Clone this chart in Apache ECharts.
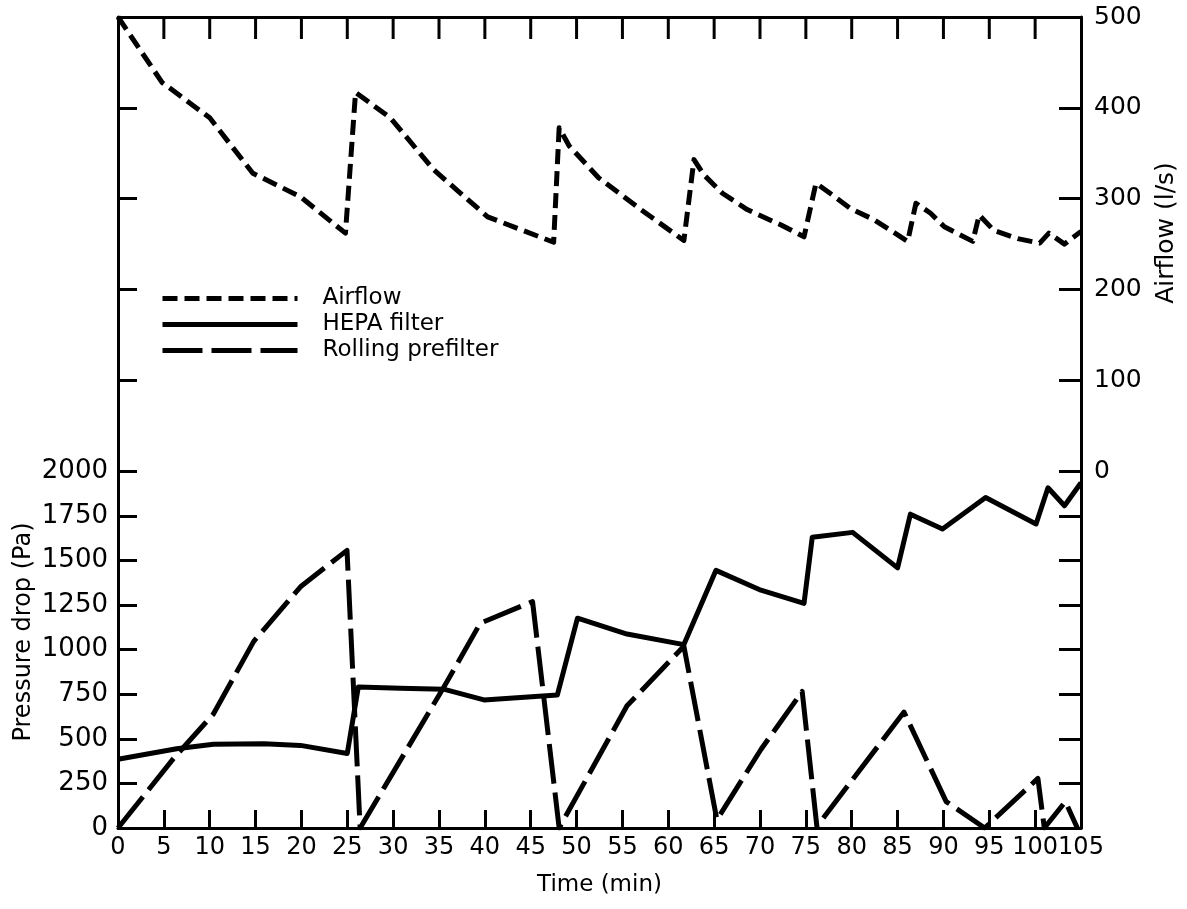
<!DOCTYPE html>
<html>
<head>
<meta charset="utf-8">
<title>Airflow and pressure drop vs time</title>
<script src="https://cdn.jsdelivr.net/npm/echarts@6/dist/echarts.min.js"></script>
<style>
  html, body { margin: 0; padding: 0; background: #fff; }
  #chart { width: 1187px; height: 909px; }
</style>
</head>
<body>
<div id="chart"></div>
<script>
// Airflow through the unit (l/s) against time (min)
const airflowTime = [0, 4.8, 10, 14.7, 19.9, 24.8, 25.9, 29.7, 34.4, 40.3, 47.5, 48.1, 49.2, 52.4, 57, 61.7, 62.8, 63.9, 65.9, 68.6, 72.3, 74.8, 76.1, 77.9, 79.9, 82.4, 86.1, 87, 88.6, 90.1, 93.2, 93.9, 95.5, 98.1, 100.5, 101.5, 103.2, 105];
const airflowValues = [500, 428, 389, 328, 302, 262, 417, 389, 332, 280, 252, 378, 358, 323, 288, 254, 343, 326, 306, 288, 271, 258, 317, 304, 289, 277, 253, 295, 284, 269, 253, 282, 265, 256, 251, 262, 250, 264];

// HEPA filter pressure drop (Pa)
const hepaTime = [0, 6.4, 10.4, 15.9, 19.9, 25, 26.2, 30.8, 35.5, 39.9, 47.9, 50.1, 55.5, 61.7, 65.2, 70.1, 74.8, 75.7, 80.1, 85, 86.4, 89.9, 94.6, 100.1, 101.4, 103.2, 105];
const hepaValues = [385, 444, 469, 472, 463, 418, 790, 783, 778, 718, 745, 1176, 1087, 1028, 1444, 1333, 1259, 1630, 1657, 1458, 1759, 1676, 1852, 1704, 1907, 1806, 1935];

// Rolling prefilter pressure drop (Pa)
const rollingTime = [0, 6.04, 10.4, 14.8, 19.9, 24.97, 26.4, 35.5, 39.5, 45.2, 48.1, 55.5, 61.7, 65.3, 70.1, 74.6, 76.2, 85.7, 90.3, 94.5, 100.3, 101, 103.3, 104.6];
const rollingValues = [0, 389, 639, 1046, 1352, 1556, 0, 787, 1148, 1269, 0, 685, 1019, 46, 440, 765, 9, 650, 148, 0, 278, 0, 148, 0];

// Tick labels
const timeTicks = [0, 5, 10, 15, 20, 25, 30, 35, 40, 45, 50, 55, 60, 65, 70, 75, 80, 85, 90, 95, 100, 105];
const pressureTicks = [0, 250, 500, 750, 1000, 1250, 1500, 1750, 2000];
const airflowTicks = [0, 100, 200, 300, 400, 500];

// The pressure scale (0–2000 Pa) fills the lower share of the plot,
// the airflow scale (0–500 l/s) fills the rest; both axes run the full height.
const LOWER_SHARE = 0.44;
const P_MAX = 2000 / LOWER_SHARE;
const A_MIN = -500 * LOWER_SHARE / (1 - LOWER_SHARE);
const A_TOP = airflowTicks[airflowTicks.length - 1];

const FONT = 'DejaVu Sans';
const INK = '#000';

function pairs(xs, ys) { return xs.map((x, i) => [x, ys[i]]); }
const plain = v => String(v);

const chart = echarts.init(document.getElementById('chart'), null, { renderer: 'canvas' });

const tickStyle = { color: INK, width: 3 };
const frameLine = { show: true, onZero: false, lineStyle: { color: INK, width: 3 } };
const noLine = { show: false, onZero: false };

chart.setOption({
  backgroundColor: '#fff',
  animation: false,
  grid: { left: 118, right: 106, top: 17, bottom: 81, containLabel: false },
  legend: {
    left: 160,
    top: 287,
    padding: 0,
    orient: 'vertical',
    itemWidth: 135,
    itemHeight: 20,
    itemGap: 3,
    itemStyle: { color: 'rgba(0,0,0,0)', borderWidth: 0 },
    lineStyle: { width: 5, color: INK },
    textStyle: { fontFamily: FONT, fontSize: 23, color: INK, lineHeight: 20, padding: [0, 0, 0, 20] },
    data: ['Airflow', 'HEPA filter', 'Rolling prefilter']
  },
  xAxis: [
    {
      type: 'value', position: 'bottom', min: 0, max: 105, interval: 5,
      axisLine: frameLine,
      axisTick: { show: true, inside: true, length: 18, lineStyle: tickStyle, customValues: timeTicks },
      axisLabel: {
        show: true, margin: 8, fontFamily: FONT, fontSize: 24, color: INK,
        customValues: timeTicks, formatter: plain, showMinLabel: true, showMaxLabel: true, hideOverlap: false
      },
      splitLine: { show: false },
      name: 'Time (min)', nameLocation: 'middle', nameGap: 46,
      nameTextStyle: { fontFamily: FONT, fontSize: 23, color: INK }
    },
    {
      // top frame edge
      type: 'value', position: 'top', min: 0, max: 105, interval: 5,
      axisLine: frameLine,
      axisTick: { show: false },
      axisLabel: { show: false },
      splitLine: { show: false }
    }
  ],
  yAxis: [
    {
      // pressure drop, left
      type: 'value', position: 'left', min: 0, max: P_MAX,
      axisLine: frameLine,
      axisTick: { show: true, inside: true, length: 19, lineStyle: tickStyle, customValues: pressureTicks },
      axisLabel: { show: true, margin: 10, fontFamily: FONT, fontSize: 26, color: INK, customValues: pressureTicks, formatter: plain },
      splitLine: { show: false }
    },
    {
      // airflow, right
      type: 'value', position: 'right', min: A_MIN, max: A_TOP,
      axisLine: frameLine,
      axisTick: { show: true, inside: true, length: 22, lineStyle: tickStyle, customValues: airflowTicks },
      axisLabel: { show: true, margin: 13, fontFamily: FONT, fontSize: 25, color: INK, customValues: airflowTicks, formatter: plain },
      splitLine: { show: false }
    },
    {
      // airflow tick marks repeated on the left edge
      type: 'value', position: 'left', min: A_MIN, max: A_TOP,
      axisLine: noLine,
      axisTick: { show: true, inside: true, length: 19, lineStyle: tickStyle, customValues: airflowTicks.slice(1, -1) },
      axisLabel: { show: false },
      splitLine: { show: false }
    },
    {
      // pressure tick marks repeated on the right edge
      type: 'value', position: 'right', min: 0, max: P_MAX,
      axisLine: noLine,
      axisTick: { show: true, inside: true, length: 22, lineStyle: tickStyle, customValues: pressureTicks.slice(1, -1) },
      axisLabel: { show: false },
      splitLine: { show: false }
    }
  ],
  graphic: [
    {
      type: 'text', x: 24, y: 632, rotation: Math.PI / 2,
      style: { text: 'Pressure drop (Pa)', fontFamily: FONT, fontSize: 24, fill: INK, textAlign: 'center', textVerticalAlign: 'middle' }
    },
    {
      type: 'text', x: 1166, y: 233, rotation: Math.PI / 2,
      style: { text: 'Airflow (l/s)', fontFamily: FONT, fontSize: 25, fill: INK, textAlign: 'center', textVerticalAlign: 'middle' }
    }
  ],
  series: [
    {
      name: 'Airflow', type: 'line', xAxisIndex: 0, yAxisIndex: 1,
      data: pairs(airflowTime, airflowValues),
      symbol: 'none', smooth: false,
      lineStyle: { color: INK, width: 5, type: [15, 7], join: 'round' },
      itemStyle: { color: INK }
    },
    {
      name: 'HEPA filter', type: 'line', xAxisIndex: 0, yAxisIndex: 0,
      data: pairs(hepaTime, hepaValues),
      symbol: 'none', smooth: false,
      lineStyle: { color: INK, width: 5, type: 'solid', join: 'round' },
      itemStyle: { color: INK }
    },
    {
      name: 'Rolling prefilter', type: 'line', xAxisIndex: 0, yAxisIndex: 0,
      data: pairs(rollingTime, rollingValues),
      symbol: 'none', smooth: false,
      lineStyle: { color: INK, width: 5, type: [40, 9], join: 'round' },
      itemStyle: { color: INK }
    },
    {
      // tick row hanging from the top frame edge, one per time tick
      name: 'top ticks', type: 'custom', xAxisIndex: 0, yAxisIndex: 1,
      silent: true, clip: false, z: 5,
      data: timeTicks.slice(1, -1).map(t => [t, A_TOP]),
      renderItem: (params, api) => {
        const p = api.coord([api.value(0), api.value(1)]);
        return {
          type: 'line',
          shape: { x1: p[0], y1: p[1], x2: p[0], y2: p[1] + 22 },
          style: { stroke: INK, lineWidth: 3 }
        };
      }
    }
  ]
});
</script>
</body>
</html>
